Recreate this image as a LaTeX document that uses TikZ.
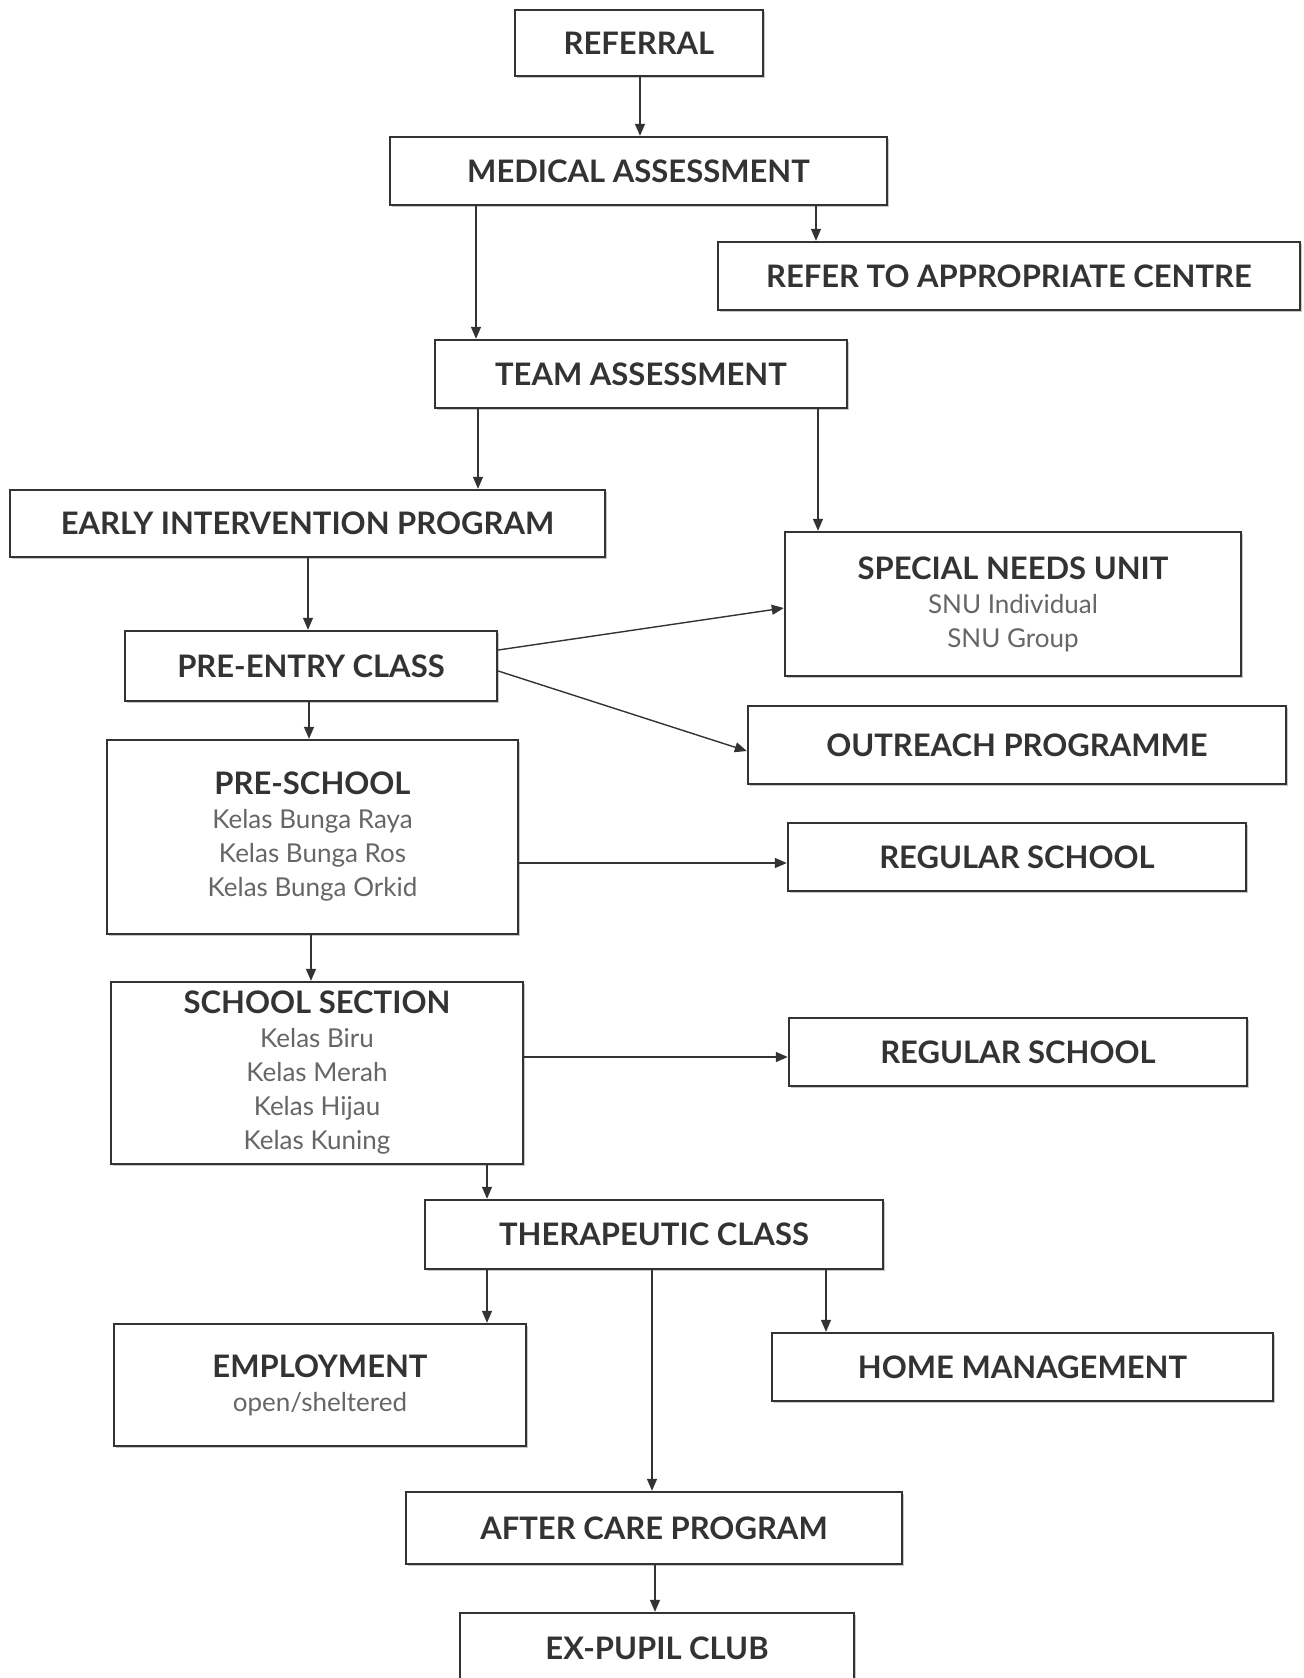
\documentclass[tikz,border=0pt]{standalone}
\usepackage{fontspec}
\setmainfont{Lato}
\usetikzlibrary{arrows.meta,shadows}
\definecolor{ink}{HTML}{333333}
\definecolor{sub}{HTML}{666666}
\newcommand{\ttl}[1]{{\bfseries\fontsize{15.5}{17}\selectfont\color{ink}#1}}
\tikzset{
  box/.style={draw=ink, line width=1.2pt, fill=white, inner sep=0pt, align=center,
    font=\fontsize{13}{17}\selectfont, text=sub,
    drop shadow={shadow xshift=1.2pt, shadow yshift=-1.2pt, opacity=0.22, fill=black}},
  arr/.style={draw=ink, line width=0.7pt, -{Triangle[length=6pt,width=5pt]}}
}
\begin{document}
\begin{tikzpicture}[x=0.5pt,y=-0.5pt]
\useasboundingbox (0,0) rectangle (1304,1678);
\node[box, minimum width=124pt, minimum height=33pt] (ref) at (639,43) {\ttl{REFERRAL}};
\node[box, minimum width=248.5pt, minimum height=34pt] (med) at (638.5,171) {\ttl{MEDICAL ASSESSMENT}};
\node[box, minimum width=291pt, minimum height=34pt] (refc) at (1009,276) {\ttl{REFER TO APPROPRIATE CENTRE}};
\node[box, minimum width=206pt, minimum height=34pt] (team) at (641,374) {\ttl{TEAM ASSESSMENT}};
\node[box, minimum width=297.5pt, minimum height=33.5pt] (early) at (307.5,523.5) {\ttl{EARLY INTERVENTION PROGRAM}};
\node[box, minimum width=228pt, minimum height=72pt] (snu) at (1013,604) {\ttl{SPECIAL NEEDS UNIT}\\SNU Individual\\SNU Group};
\node[box, minimum width=186pt, minimum height=35pt] (pre) at (311,666) {\ttl{PRE-ENTRY CLASS}};
\node[box, minimum width=269pt, minimum height=39pt] (out) at (1017,745) {\ttl{OUTREACH PROGRAMME}};
\node[box, minimum width=205.5pt, minimum height=97pt] (ps) at (312.5,837) {\ttl{PRE-SCHOOL}\\Kelas Bunga Raya\\Kelas Bunga Ros\\Kelas Bunga Orkid};
\node[box, minimum width=229pt, minimum height=34pt] (reg1) at (1017,857) {\ttl{REGULAR SCHOOL}};
\node[box, minimum width=206pt, minimum height=91pt] (ss) at (317,1073) {\ttl{SCHOOL SECTION}\\Kelas Biru\\Kelas Merah\\Kelas Hijau\\Kelas Kuning};
\node[box, minimum width=229pt, minimum height=34pt] (reg2) at (1018,1052) {\ttl{REGULAR SCHOOL}};
\node[box, minimum width=229pt, minimum height=34.5pt] (ther) at (654,1234.5) {\ttl{THERAPEUTIC CLASS}};
\node[box, minimum width=206pt, minimum height=61pt] (emp) at (320,1385) {\ttl{EMPLOYMENT}\\open/sheltered};
\node[box, minimum width=250.5pt, minimum height=34pt] (home) at (1022.5,1367) {\ttl{HOME MANAGEMENT}};
\node[box, minimum width=248pt, minimum height=36pt] (after) at (654,1528) {\ttl{AFTER CARE PROGRAM}};
\node[box, minimum width=197pt, minimum height=35pt] (ex) at (657,1648) {\ttl{EX-PUPIL CLUB}};

\draw[arr] (ref.south -| 640,0) -- (med.north -| 640,0);
\draw[arr] (med.south -| 816,0) -- (refc.north -| 816,0);
\draw[arr] (med.south -| 476,0) -- (team.north -| 476,0);
\draw[arr] (team.south -| 478,0) -- (early.north -| 478,0);
\draw[arr] (team.south -| 818,0) -- (snu.north -| 818,0);
\draw[arr] (early.south -| 308,0) -- (pre.north -| 308,0);
\draw[arr] (pre.east |- 0,650) -- (snu.west |- 0,608);
\draw[arr] (pre.east |- 0,671) -- (out.west |- 0,751);
\draw[arr] (pre.south -| 309,0) -- (ps.north -| 309,0);
\draw[arr] (ps.east |- 0,863) -- (reg1.west |- 0,863);
\draw[arr] (ps.south -| 311,0) -- (ss.north -| 311,0);
\draw[arr] (ss.east |- 0,1057) -- (reg2.west |- 0,1057);
\draw[arr] (ss.south -| 487,0) -- (ther.north -| 487,0);
\draw[arr] (ther.south -| 487,0) -- (emp.north -| 487,0);
\draw[arr] (ther.south -| 826,0) -- (home.north -| 826,0);
\draw[arr] (ther.south -| 652,0) -- (after.north -| 652,0);
\draw[arr] (after.south -| 655,0) -- (ex.north -| 655,0);
\end{tikzpicture}
\end{document}
